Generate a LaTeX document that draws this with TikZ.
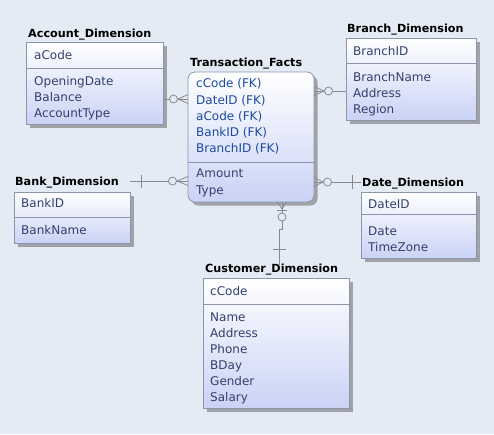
\documentclass[tikz,border=0pt]{standalone}
\usepackage{fontspec}
\setmainfont{DejaVu Sans}
\usetikzlibrary{shadows}
\definecolor{bg}{RGB}{229,235,244}
\definecolor{boxline}{RGB}{140,150,170}
\definecolor{boxbot}{RGB}{202,211,245}
\definecolor{shadowc}{RGB}{160,162,168}
\definecolor{attrc}{RGB}{52,64,110}
\definecolor{fkc}{RGB}{28,74,160}
\definecolor{connc}{RGB}{135,138,145}
\begin{document}
\begin{tikzpicture}[x=1pt,y=-1pt,
  entbox/.style={draw=boxline, line width=0.8pt, top color=white, bottom color=boxbot,
    drop shadow={shadow xshift=3.5pt, shadow yshift=-3.5pt, fill=shadowc, opacity=1},
    inner sep=0pt, outer sep=0pt, anchor=north west},
  etitle/.style={font=\bfseries\fontsize{11.2}{13}\selectfont, anchor=west, inner sep=0pt, text height=8.5pt, text depth=0pt},
  attr/.style={font=\fontsize{12}{14}\selectfont, text=attrc, anchor=west, inner sep=0pt, text height=8.7pt, text depth=0pt},
  fk/.style={attr, text=fkc},
  divl/.style={draw=boxline, line width=0.8pt},
  conn/.style={draw=connc, line width=0.8pt},
  ring/.style={draw=connc, fill=bg, line width=0.8pt}]
\fill[bg] (0,0) rectangle (494,434);
\useasboundingbox (0,0) rectangle (494,434);

% boxes
\node[entbox, minimum width=137pt, minimum height=82pt] (acc) at (26,42) {};
\node[entbox, rounded corners=7pt, minimum width=126pt, minimum height=130pt] (trans) at (188,72) {};
\node[entbox, minimum width=130pt, minimum height=82pt] (branch) at (346,38) {};
\node[entbox, minimum width=116pt, minimum height=51pt] (bank) at (14,192) {};
\node[entbox, minimum width=115pt, minimum height=66pt] (date) at (361,192) {};
\node[entbox, minimum width=146pt, minimum height=130pt] (cust) at (203,278) {};

% dividers
\draw[divl] (acc.west |- 0,68) -- (acc.east |- 0,68);
\draw[divl] (trans.west |- 0,162) -- (trans.east |- 0,162);
\draw[divl] (branch.west |- 0,63) -- (branch.east |- 0,63);
\draw[divl] (bank.west |- 0,217) -- (bank.east |- 0,217);
\draw[divl] (date.west |- 0,214) -- (date.east |- 0,214);
\draw[divl] (cust.west |- 0,304) -- (cust.east |- 0,304);

% titles
\node[etitle] (tacc) at (28,33) {Account\_Dimension};
\node[etitle] (ttrans) at (190,62) {Transaction\_Facts};
\node[etitle] (tbranch) at (347,28) {Branch\_Dimension};
\node[etitle] (tbank) at (15,181) {Bank\_Dimension};
\node[etitle] (tdate) at (362,182) {Date\_Dimension};
\node[etitle] (tcust) at (205,268) {Customer\_Dimension};

% account
\node[attr] (a1) at (34,55) {aCode};
\node[attr] (a2) at (34,81) {OpeningDate};
\node[attr] (a3) at (34,97) {Balance};
\node[attr] (a4) at (34,113) {AccountType};
% transaction
\node[fk] (t1) at (196,83) {cCode (FK)};
\node[fk] (t2) at (196,100) {DateID (FK)};
\node[fk] (t3) at (196,116.5) {aCode (FK)};
\node[fk] (t4) at (196,132) {BankID (FK)};
\node[fk] (t5) at (196,148) {BranchID (FK)};
\node[attr] (t6) at (196,173.5) {Amount};
\node[attr] (t7) at (196,190) {Type};
% branch
\node[attr] (b1) at (353,51) {BranchID};
\node[attr] (b2) at (353,77) {BranchName};
\node[attr] (b3) at (353,93) {Address};
\node[attr] (b4) at (353,109) {Region};
% bank
\node[attr] (k1) at (21,203.5) {BankID};
\node[attr] (k2) at (21,230) {BankName};
% date
\node[attr] (d1) at (368,204) {DateID};
\node[attr] (d2) at (368,231) {Date};
\node[attr] (d3) at (368,247.5) {TimeZone};
% customer
\node[attr] (c1) at (210,291) {cCode};
\node[attr] (c2) at (210,317) {Name};
\node[attr] (c3) at (210,333) {Address};
\node[attr] (c4) at (210,349) {Phone};
\node[attr] (c5) at (210,365) {BDay};
\node[attr] (c6) at (210,381) {Gender};
\node[attr] (c7) at (210,397) {Salary};

% connectors
% account - transaction
\draw[conn] (acc.east |- 0,99) -- (trans.west |- 0,99);
\draw[conn] (178,99) -- (trans.west |- 0,94.5) (178,99) -- (trans.west |- 0,103.5);
\draw[ring] (173.5,99) circle[radius=4];
% branch - transaction
\draw[conn] (trans.east |- 0,91) -- (branch.west |- 0,91);
\draw[conn] (trans.east |- 0,86.5) -- (324,91) (trans.east |- 0,95.5) -- (324,91);
\draw[ring] (328.5,91) circle[radius=4];
% bank - transaction
\draw[conn] (bank.east |- 0,181) -- (trans.west |- 0,181);
\draw[conn] (141,174.5) -- (141,188);
\draw[conn] (177,181) -- (trans.west |- 0,176.5) (177,181) -- (trans.west |- 0,185.5);
\draw[ring] (172.5,181) circle[radius=4];
% date - transaction
\draw[conn] (trans.east |- 0,182) -- (date.west |- 0,182);
\draw[conn] (352,175) -- (352,189);
\draw[conn] (trans.east |- 0,177.5) -- (323,182) (trans.east |- 0,186.5) -- (323,182);
\draw[ring] (327.5,182) circle[radius=4];
% customer - transaction
\coordinate (custend) at (279,265);
\draw[conn] (trans.south -| 282,0) -- (282,229) -- (279,229) -- (custend);
\draw[conn] (trans.south -| 277.5,0) -- (282,209) (trans.south -| 286.5,0) -- (282,209);
\draw[conn] (277,210.5) -- (287,210.5);
\draw[ring] (282,217) circle[radius=4];
\draw[conn] (272.5,249) -- (286,249);
\end{tikzpicture}
\end{document}
